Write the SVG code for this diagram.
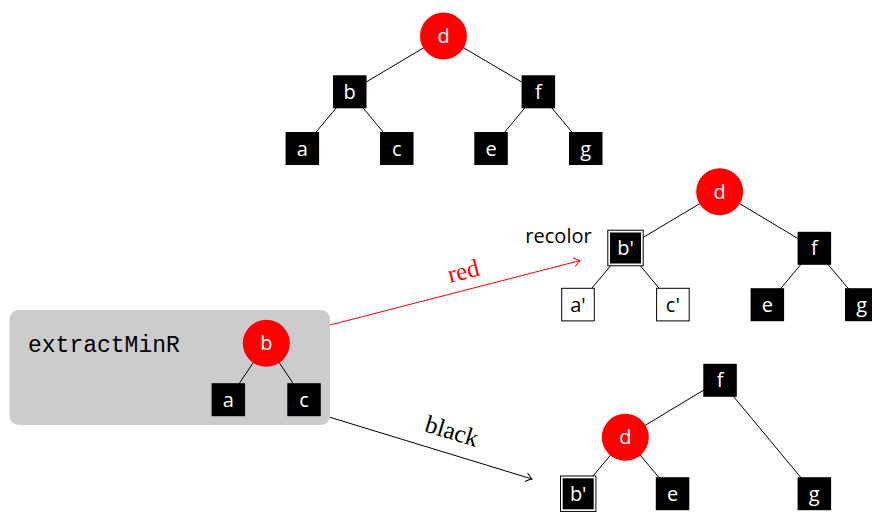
<svg xmlns="http://www.w3.org/2000/svg" width="872" height="512" viewBox="0 0 872 512">
<defs>
<style>
.bn{fill:#000}
.rn{fill:#ff0000}
.wn{fill:#fff;stroke:#000;stroke-width:1}
.lb{font-family:"Open Sans","Noto Sans",sans-serif;font-size:20px;fill:#fff;text-anchor:middle}
.lk{font-family:"Open Sans","Noto Sans",sans-serif;font-size:20px;fill:#000;text-anchor:middle}
.e{stroke:#000;stroke-width:1;fill:none}
.ser{font-family:"Liberation Serif","DejaVu Serif",serif;font-size:25px;text-anchor:middle}
</style>
<marker id="ahk" markerWidth="12" markerHeight="12" refX="0" refY="0" viewBox="-8 -6 10 12" orient="auto" markerUnits="userSpaceOnUse">
<path d="M-6,-4.5 Q-2,-1 0,0 Q-2,1 -6,4.5" fill="none" stroke="#000" stroke-width="1"/>
</marker>
<marker id="ahr" markerWidth="12" markerHeight="12" refX="0" refY="0" viewBox="-8 -6 10 12" orient="auto" markerUnits="userSpaceOnUse">
<path d="M-6,-4.5 Q-2,-1 0,0 Q-2,1 -6,4.5" fill="none" stroke="#ff0000" stroke-width="1"/>
</marker>
</defs>
<rect width="872" height="512" fill="#fff"/>

<g id="input-box">
<rect x="9.5" y="310" width="320.5" height="115" rx="9" fill="#cccccc"/>
<text x="28" y="352" font-family="Liberation Mono, DejaVu Sans Mono, monospace" font-size="23" fill="#000">extractMinR</text>
</g>

<g id="connectors">
<line class="e" x1="443.5" y1="36" x2="349.7" y2="91.8"/>
<line class="e" x1="443.5" y1="36" x2="538.3" y2="91.8"/>
<line class="e" x1="349.7" y1="91.8" x2="302.3" y2="148.5"/>
<line class="e" x1="349.7" y1="91.8" x2="396.7" y2="148.5"/>
<line class="e" x1="538.3" y1="91.8" x2="491" y2="148.5"/>
<line class="e" x1="538.3" y1="91.8" x2="585.7" y2="148.5"/>

<line class="e" x1="266.3" y1="343.3" x2="228.3" y2="399.7"/>
<line class="e" x1="266.3" y1="343.3" x2="304" y2="399.7"/>

<line class="e" x1="719.7" y1="191.7" x2="625.5" y2="248"/>
<line class="e" x1="719.7" y1="191.7" x2="814.3" y2="248.3"/>
<line class="e" x1="625.5" y1="248" x2="578" y2="304.7"/>
<line class="e" x1="625.5" y1="248" x2="672.8" y2="304.7"/>
<line class="e" x1="814.3" y1="248.3" x2="767.3" y2="304.7"/>
<line class="e" x1="814.3" y1="248.3" x2="862" y2="304.7"/>

<line class="e" x1="720" y1="380.3" x2="625.3" y2="437.3"/>
<line class="e" x1="720" y1="380.3" x2="814.3" y2="493.7"/>
<line class="e" x1="625.3" y1="437.3" x2="578.2" y2="493.8"/>
<line class="e" x1="625.3" y1="437.3" x2="672.5" y2="493.7"/>

<line x1="330" y1="325" x2="580" y2="260.6" stroke="#ff0000" stroke-width="1" marker-end="url(#ahr)"/>
<line x1="330" y1="417.3" x2="532" y2="479" stroke="#000" stroke-width="1" marker-end="url(#ahk)"/>
<text class="ser" fill="#ff0000" transform="translate(465.5,279) rotate(-14.5)">red</text>
<text class="ser" fill="#000" transform="translate(449.5,439) rotate(17)">black</text>
</g>

<g id="top-d"><circle class="rn" cx="443.5" cy="36" r="23.5"/><text class="lb" x="443.5" y="43">d</text></g>
<g id="top-b"><rect class="bn" x="333" y="75.3" width="33.5" height="33"/><text class="lb" x="349.7" y="98.8">b</text></g>
<g id="top-f"><rect class="bn" x="521.6" y="75.3" width="33.5" height="33"/><text class="lb" x="538.3" y="98.8">f</text></g>
<g id="top-a"><rect class="bn" x="285.6" y="132" width="33.5" height="33"/><text class="lb" x="302.3" y="155.5">a</text></g>
<g id="top-c"><rect class="bn" x="380" y="132" width="33.5" height="33"/><text class="lb" x="396.7" y="155.5">c</text></g>
<g id="top-e"><rect class="bn" x="474.3" y="132" width="33.5" height="33"/><text class="lb" x="491" y="155.5">e</text></g>
<g id="top-g"><rect class="bn" x="569" y="132" width="33.5" height="33"/><text class="lb" x="585.7" y="155.5">g</text></g>

<g id="in-b"><circle class="rn" cx="266.3" cy="343.3" r="23.5"/><text class="lb" x="266.3" y="350.3">b</text></g>
<g id="in-a"><rect class="bn" x="211.6" y="383.2" width="33.5" height="33"/><text class="lb" x="228.3" y="406.7">a</text></g>
<g id="in-c"><rect class="bn" x="287.3" y="383.2" width="33.5" height="33"/><text class="lb" x="304" y="406.7">c</text></g>

<g id="red-d"><circle class="rn" cx="719.7" cy="191.7" r="23.5"/><text class="lb" x="719.7" y="198.7">d</text></g>
<g id="red-recolor-label"><text class="lk" x="558.5" y="242.5" font-size="20.5">recolor</text></g>
<g id="red-b"><rect class="wn" x="607.8" y="230.2" width="35.4" height="35.6"/><rect class="bn" x="610" y="232.5" width="31" height="31"/><text class="lb" x="625.5" y="255">b'</text></g>
<g id="red-f"><rect class="bn" x="797.6" y="231.8" width="33.5" height="33"/><text class="lb" x="814.3" y="255.3">f</text></g>
<g id="red-a"><rect class="wn" x="561.7" y="288.3" width="32.6" height="32.6"/><text class="lk" x="578" y="311.7">a'</text></g>
<g id="red-c"><rect class="wn" x="656.6" y="288.3" width="32.6" height="32.6"/><text class="lk" x="672.8" y="311.7">c'</text></g>
<g id="red-e"><rect class="bn" x="750.6" y="288.2" width="33.5" height="33"/><text class="lb" x="767.3" y="311.7">e</text></g>
<g id="red-g"><rect class="bn" x="845" y="288.2" width="33.5" height="33"/><text class="lb" x="861.7" y="311.7">g</text></g>

<g id="blk-f"><rect class="bn" x="703.3" y="363.8" width="33.5" height="33"/><text class="lb" x="720" y="387.3">f</text></g>
<g id="blk-d"><circle class="rn" cx="625.3" cy="437.3" r="23.5"/><text class="lb" x="625.3" y="444.3">d</text></g>
<g id="blk-b"><rect class="wn" x="560.5" y="476" width="35.4" height="35.6"/><rect class="bn" x="562.7" y="478.3" width="31" height="31"/><text class="lb" x="578.2" y="500.8">b'</text></g>
<g id="blk-e"><rect class="bn" x="655.8" y="477.2" width="33.5" height="33"/><text class="lb" x="672.5" y="500.7">e</text></g>
<g id="blk-g"><rect class="bn" x="797.6" y="477.2" width="33.5" height="33"/><text class="lb" x="814.3" y="500.7">g</text></g>
</svg>
